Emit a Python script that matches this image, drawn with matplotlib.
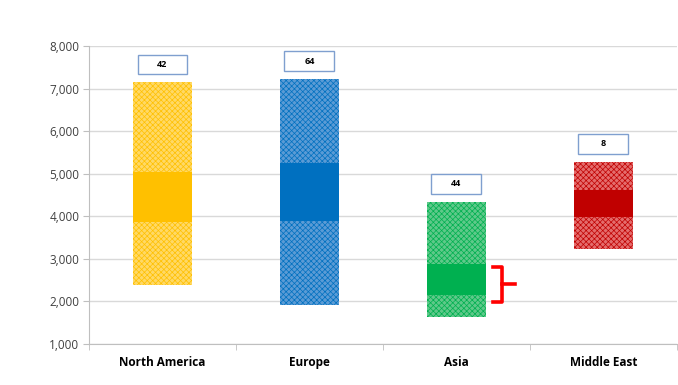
import numpy as np
import matplotlib.pyplot as plt
from matplotlib.patches import Rectangle

# dati
regioni = ["North America", "Europe", "Asia", "Middle East"]
minimo = [2390, 1920, 1630, 3230]
massimo = [7150, 7225, 4340, 5280]
q1 = [3875, 3895, 2150, 3985]
q3 = [5045, 5260, 2880, 4620]
conteggi = [42, 64, 44, 8]

colori = ["#FFC000", "#0070C0", "#00B050", "#C00000"]
chiari = ["#FFD966", "#5B9BD5", "#5FC98A", "#E46C6C"]

plt.rcParams["font.family"] = ["Open Sans", "DejaVu Sans"]
plt.rcParams["hatch.linewidth"] = 0.5

fig = plt.figure(figsize=(6.78, 3.85), dpi=100)
ax = fig.add_axes([0.1313, 0.1065, 0.867, 0.774])

x = np.arange(len(regioni))
larghezza = 0.40

for i in range(len(regioni)):
    # intervallo completo con trama
    ax.bar(x[i], massimo[i] - minimo[i], bottom=minimo[i], width=larghezza,
           facecolor=chiari[i], edgecolor=colori[i], hatch="xxxxxx",
           linewidth=0, zorder=3)
    # parte centrale piena
    ax.bar(x[i], q3[i] - q1[i], bottom=q1[i], width=larghezza,
           color=colori[i], linewidth=0, zorder=4)
    # riquadro con il numero
    alto_box = 460
    base_box = massimo[i] + 190
    ax.add_patch(Rectangle((x[i] - 0.17, base_box), 0.34, alto_box,
                           facecolor="white", edgecolor="#7F9FCF",
                           linewidth=1.0, zorder=5))
    ax.text(x[i], base_box + alto_box / 2, str(conteggi[i]), ha="center",
            va="center", fontsize=6.5, fontweight="bold", zorder=6)

# parentesi rossa vicino ad Asia
yb, yt = q1[2] - 160, q3[2] - 70
ym = (yb + yt) / 2
xa, xb, xc = 2.25, 2.31, 2.40
ax.plot([xa, xb, xb, xa], [yt, yt, yb, yb], color="#FF0000", lw=2.6,
        solid_joinstyle="round", zorder=6)
ax.plot([xb, xc], [ym, ym], color="#FF0000", lw=2.6, zorder=6)

ax.set_xlim(-0.5, 3.5)
ax.set_ylim(1000, 8000)
ax.set_yticks(np.arange(1000, 8001, 1000))
ax.set_yticklabels([f"{v:,}" for v in range(1000, 8001, 1000)],
                   fontsize=8.5, color="#404040")
ax.set_xticks(x)
ax.set_xticklabels(regioni, fontsize=8.5, fontweight="bold")
ax.set_xticks(np.arange(-0.5, 3.6, 1), minor=True)
ax.tick_params(axis="x", which="major", length=0, pad=9)
ax.tick_params(axis="x", which="minor", length=4, color="#BFBFBF")
ax.tick_params(axis="y", length=4, color="#BFBFBF", pad=3)

ax.grid(axis="y", color="#D9D9D9", linewidth=1.0, zorder=0)
ax.set_axisbelow(True)
for s in ["top", "right"]:
    ax.spines[s].set_visible(False)
ax.spines["left"].set_color("#BFBFBF")
ax.spines["bottom"].set_color("#BFBFBF")

fig.savefig("out.png", dpi=100)
